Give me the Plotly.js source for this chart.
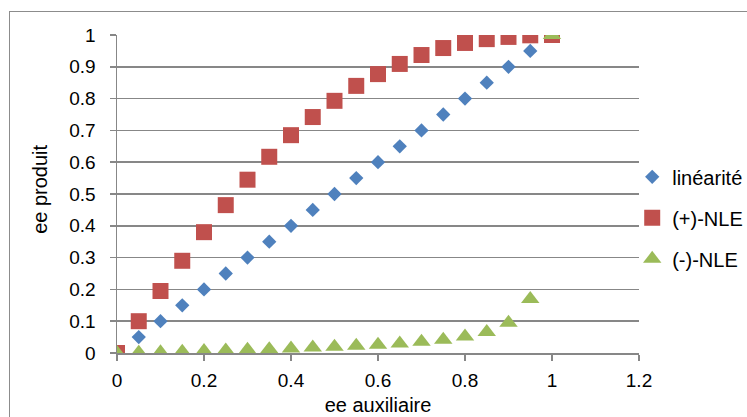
<!DOCTYPE html>
<html><head><meta charset="utf-8">
<script src="https://cdn.plot.ly/plotly-3.0.1.min.js"></script>
<style>
html,body{margin:0;padding:0;background:#fff;overflow:hidden;}
#frame{position:absolute;left:9px;top:11px;width:800px;height:500px;border:1px solid #8c8c8c;box-sizing:border-box;}
#chart{position:absolute;left:0;top:0;width:747px;height:417px;}
</style></head>
<body>
<div id="frame"></div>
<div id="chart"></div>
<script>
const xValues = [0,0.05,0.1,0.15,0.2,0.25,0.3,0.35,0.4,0.45,0.5,0.55,0.6,0.65,0.7,0.75,0.8,0.85,0.9,0.95,1];
const linearite = [0,0.05,0.1,0.15,0.2,0.25,0.3,0.35,0.4,0.45,0.5,0.55,0.6,0.65,0.7,0.75,0.8,0.85,0.9,0.95,1];
const nlePlus = [0,0.1,0.195,0.29,0.38,0.465,0.545,0.617,0.685,0.742,0.793,0.84,0.877,0.909,0.937,0.959,0.975,0.987,0.994,0.999,1];
const nleMinus = [0,0.001,0.002,0.004,0.006,0.008,0.01,0.012,0.014,0.017,0.02,0.023,0.026,0.03,0.035,0.042,0.052,0.066,0.095,0.17,1];
const names = ['linéarité','(+)-NLE','(-)-NLE'];
const yTicks = [0,0.1,0.2,0.3,0.4,0.5,0.6,0.7,0.8,0.9,1];
const xTicks = [0,0.2,0.4,0.6,0.8,1,1.2];
const xTitle = 'ee auxiliaire';
const yTitle = 'ee produit';

const font = 'Liberation Sans, Arial, sans-serif';
const traces = [
  {x:xValues,y:linearite,name:names[0],mode:'markers',type:'scatter',legendgroup:'a',
   marker:{symbol:'diamond',size:11,color:'#4F81BD'}},
  {x:xValues,y:nlePlus,name:names[1],mode:'markers',type:'scatter',legendgroup:'b',
   marker:{symbol:'square',size:16,color:'#C0504D'}},
  {x:xValues,y:nleMinus,name:names[2],mode:'markers',type:'scatter',legendgroup:'c',
   marker:{symbol:'triangle-up',size:16,color:'#9BBB59'}}
];
const layout = {
  width:747,height:417,
  margin:{l:117,r:108,t:35,b:64,autoexpand:false},
  paper_bgcolor:'rgba(0,0,0,0)',plot_bgcolor:'rgba(0,0,0,0)',
  font:{family:font,size:19,color:'#000'},
  showlegend:true,
  legend:{x:0.987,y:0.425,yanchor:'middle',xanchor:'left',traceorder:'grouped',tracegroupgap:12,
    font:{family:font,size:20},itemwidth:30,bgcolor:'rgba(0,0,0,0)'},
  xaxis:{range:[0,1.2],tickvals:xTicks,ticktext:xTicks.map(String),showgrid:false,zeroline:false,
    showline:true,linecolor:'#878787',linewidth:1.5,ticks:'outside',ticklen:6,tickcolor:'#878787',tickwidth:1.5,
    ticklabelstandoff:4,automargin:false,
    title:{text:xTitle,font:{family:font,size:20},standoff:7},tickfont:{size:19},fixedrange:true},
  yaxis:{range:[0,1],tickvals:yTicks,ticktext:yTicks.map(String),showgrid:true,gridcolor:'#878787',gridwidth:1.5,
    zeroline:false,showline:true,linecolor:'#878787',linewidth:1.5,ticks:'outside',ticklen:6,tickcolor:'#878787',tickwidth:1.5,
    ticklabelstandoff:10,automargin:false,tickfont:{size:19},fixedrange:true},
  annotations:[{text:yTitle,xref:'paper',yref:'paper',x:-0.1475,y:0.513,xanchor:'center',yanchor:'middle',
    textangle:-90,showarrow:false,font:{family:font,size:20,color:'#000'}}]
};
Plotly.newPlot('chart',traces,layout,{displayModeBar:false,staticPlot:true});
</script>
</body></html>
